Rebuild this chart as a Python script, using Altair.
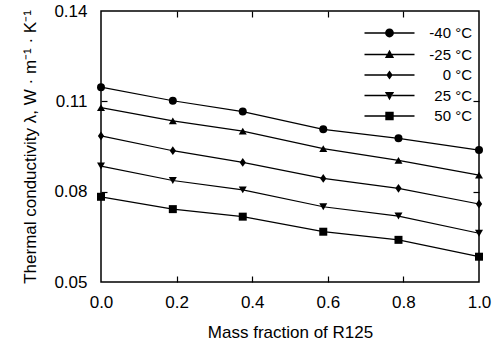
import altair as alt
import pandas as pd

# ---- data ----
mass_fraction = [0.0, 0.19, 0.375, 0.588, 0.787, 1.0]
series_labels = ["-40 °C", "-25 °C", "0 °C", "25 °C", "50 °C"]
k_m40 = [0.1147, 0.1102, 0.1066, 0.1007, 0.0977, 0.0938]
k_m25 = [0.1079, 0.1035, 0.1001, 0.0943, 0.0904, 0.0855]
k_0 = [0.0985, 0.0936, 0.0897, 0.0844, 0.0811, 0.0759]
k_25 = [0.0885, 0.0837, 0.0806, 0.0750, 0.0719, 0.0662]
k_50 = [0.0783, 0.0742, 0.0717, 0.0667, 0.0640, 0.0584]

x_ticks = [0.0, 0.2, 0.4, 0.6, 0.8, 1.0]
x_inner_ticks = [0.2, 0.4, 0.6, 0.8]
y_ticks = [0.05, 0.08, 0.11, 0.14]
y_inner_ticks = [0.08, 0.11]

rows = []
for lab, vals in zip(series_labels, [k_m40, k_m25, k_0, k_25, k_50]):
    for xv, yv in zip(mass_fraction, vals):
        rows.append({"x": xv, "k": yv, "T": lab, "T2": lab})
df = pd.DataFrame(rows)

point_shapes = ["circle", "triangle-up", "M0,-1.1L0.78,0L0,1.1L-0.78,0Z", "triangle-down", "square"]

# legend glyphs: marker with a short horizontal bar on each side (filled thin rectangles)
def bars(gap):
    return (f"M-6.25,-0.16L-{gap},-0.16L-{gap},0.16L-6.25,0.16Z"
            f"M{gap},-0.16L6.25,-0.16L6.25,0.16L{gap},0.16Z")

legend_shapes = [
    bars(1.0) + "M1.1,0A1.1,1.1,0,1,1,-1.1,0A1.1,1.1,0,1,1,1.1,0Z",
    bars(0.6) + "M0,-1.2L1.15,0.85L-1.15,0.85Z",
    bars(0.7) + "M0,-1.1L0.8,0L0,1.1L-0.8,0Z",
    bars(0.6) + "M0,1.2L1.15,-0.85L-1.15,-0.85Z",
    bars(1.0) + "M-1.05,-1.05L1.05,-1.05L1.05,1.05L-1.05,1.05Z",
]

W, H = 378, 271
FONT = "Liberation Sans"

xs = alt.Scale(domain=[0, 1], nice=False, zero=False)
ys = alt.Scale(domain=[0.05, 0.14], nice=False, zero=False)

base = alt.Chart(df)

lines = base.mark_line(color="black", strokeWidth=1.2).encode(
    x=alt.X("x:Q", scale=xs, axis=alt.Axis(
        orient="bottom", values=x_ticks, format=".1f", ticks=False, domain=False,
        grid=False, labelFontSize=17, labelPadding=12, labelFont=FONT, labelColor="black",
        title="Mass fraction of R125", titleFont=FONT, titleFontSize=17,
        titleFontWeight="normal", titleColor="black", titlePadding=14, labelFlush=False)),
    y=alt.Y("k:Q", scale=ys, axis=alt.Axis(
        orient="left", values=y_ticks, format=".2f", ticks=False, domain=False,
        grid=False, labelFontSize=17, labelPadding=14, labelFont=FONT, labelColor="black",
        title="Thermal conductivity λ, W · m⁻¹ · K⁻¹", titleFont=FONT, titleFontSize=17,
        titleFontWeight="normal", titleColor="black", titlePadding=14, labelFlush=False)),
    detail="T:N",
)

tick_style = dict(labels=False, domain=False, grid=False, ticks=True, tickSize=6,
                  tickWidth=1.2, tickColor="black", title=None)

points = base.mark_point(filled=True, color="black", size=64, opacity=1).encode(
    x=alt.X("x:Q", axis=alt.Axis(orient="top", offset=-H, values=x_inner_ticks, **tick_style)),
    y=alt.Y("k:Q", axis=alt.Axis(orient="right", offset=-W, values=y_inner_ticks, **tick_style)),
    shape=alt.Shape("T:N", scale=alt.Scale(domain=series_labels, range=point_shapes), legend=None),
)

legend_layer = base.mark_point(filled=True, color="black", size=64, opacity=0).encode(
    x=alt.X("x:Q", axis=alt.Axis(orient="bottom", offset=-H, values=x_inner_ticks, **tick_style)),
    y=alt.Y("k:Q", axis=alt.Axis(orient="left", offset=-W, values=y_inner_ticks, **tick_style)),
    shape=alt.Shape("T2:N", scale=alt.Scale(domain=series_labels, range=legend_shapes),
                    legend=alt.Legend(
                        title=None, orient="none", legendX=281, legendY=14.5,
                        labelFont=FONT, labelFontSize=15, labelColor="black",
                        labelAlign="right", labelOffset=75, labelLimit=200,
                        symbolSize=64, symbolOpacity=1, symbolFillColor="black",
                        rowPadding=4.5, padding=0)),
)

chart = alt.layer(lines, points, legend_layer).resolve_scale(
    shape="independent"
).resolve_axis(
    x="independent", y="independent"
).properties(
    width=W, height=H,
    autosize=alt.AutoSizeParams(type="none"),
    padding={"left": 101, "top": 11, "right": 17, "bottom": 62},
    background="white",
).configure_view(stroke="black", strokeWidth=1.5)

chart.save("out.html", embed_options={"renderer": "svg", "actions": False})
